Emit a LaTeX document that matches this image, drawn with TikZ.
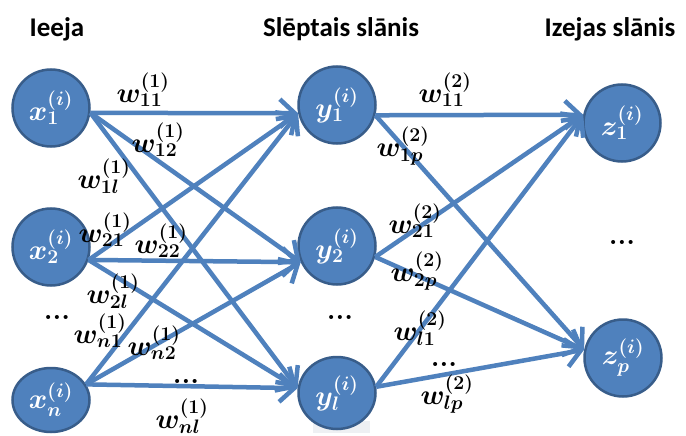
\documentclass[tikz,border=0pt]{standalone}
\usepackage{graphicx}
\usepackage{fontspec}
\newfontfamily\headfont{Carlito}
\usetikzlibrary{arrows.meta,shapes.geometric}
\definecolor{nodeblue}{HTML}{4F81BD}
\definecolor{nodeedge}{HTML}{385D8A}
\definecolor{edgeblue}{HTML}{4F81BD}
\definecolor{shadegray}{HTML}{EEF0F3}
\newcommand{\enlmath}[1]{\scalebox{1.13}{$#1$}}
\begin{document}
\begin{tikzpicture}[x=1pt,y=-1pt,
  neuron/.style={circle, fill=nodeblue, draw=nodeedge, line width=2.5pt, minimum size=77pt, inner sep=0pt, text=white, font=\fontsize{24}{24}\selectfont\boldmath},
  conn/.style={draw=edgeblue, line width=4.5pt, -{Straight Barb[length=15pt,width=28pt]}},
  wlab/.style={font=\fontsize{24}{24}\selectfont\boldmath, inner sep=0pt},
  head/.style={font=\headfont\bfseries\fontsize{27}{27}\selectfont, inner sep=0pt},
  dotsym/.style={font=\bfseries\fontsize{28}{28}\selectfont, inner sep=0pt}]
\fill[white] (0,0) rectangle (686,436);
\useasboundingbox (0,0) rectangle (686,436);

% headers
\node[head] (h1) at (57,29) {Ieeja};
\node[head] (h2) at (341,29) {Slēptais slānis};
\node[head] (h3) at (610,29) {Izejas slānis};

% faint shade under y_l
\fill[shadegray] (313,421) rectangle (370,433);

% neurons
\node[neuron] (x1) at (51,108) {\enlmath{x^{(i)}_{1}}};
\node[neuron] (x2) at (51,247) {\enlmath{x^{(i)}_{2}}};
\node[neuron, ellipse, minimum width=77pt, minimum height=64pt] (xn) at (51,400) {\enlmath{x^{(i)}_{n}}};
\node[neuron] (y1) at (337,105) {\enlmath{y^{(i)}_{1}}};
\node[neuron] (y2) at (337,246) {\enlmath{y^{(i)}_{2}}};
\node[neuron, ellipse, minimum width=77pt, minimum height=72pt] (yl) at (337,393) {\enlmath{y^{(i)}_{l}}};
\node[neuron] (z1) at (622,123) {\enlmath{z^{(i)}_{1}}};
\node[neuron] (zp) at (623,358) {\enlmath{z^{(i)}_{p}}};

% layer 1 connections
\draw[conn] (x1.-7) -- (y1.192);
\draw[conn] (x1.-7) -- (y2.204);
\draw[conn] (x1.-7) -- (yl.173);
\draw[conn] (x2.-19) -- (y1.192);
\draw[conn] (x2.-19) -- (y2.204);
\draw[conn] (x2.-19) -- (yl.173);
\draw[conn] (xn.24) -- (y1.192);
\draw[conn] (xn.24) -- (y2.204);
\draw[conn] (xn.24) -- (yl.173);

% layer 2 connections
\draw[conn] (y1.-15) -- (z1.168);
\draw[conn] (y1.-15) -- (zp.168);
\draw[conn] (y2.-16) -- (z1.168);
\draw[conn] (y2.-16) -- (zp.168);
\draw[conn] (yl.9) -- (z1.168);
\draw[conn] (yl.9) -- (zp.168);

% weight labels layer 1
\node[wlab] (w11) at (143,90) {\enlmath{w^{(1)}_{11}}};
\node[wlab] (w12) at (158,140) {\enlmath{w^{(1)}_{12}}};
\node[wlab] (w1l) at (104,176) {\enlmath{w^{(1)}_{1l}}};
\node[wlab] (w21) at (105,230) {\enlmath{w^{(1)}_{21}}};
\node[wlab] (w22) at (161,241) {\enlmath{w^{(1)}_{22}}};
\node[wlab] (w2l) at (113,291) {\enlmath{w^{(1)}_{2l}}};
\node[wlab] (wn1) at (100,331) {\enlmath{w^{(1)}_{n1}}};
\node[wlab] (wn2) at (154,343) {\enlmath{w^{(1)}_{n2}}};
\node[wlab] (wnl) at (182,416) {\enlmath{w^{(1)}_{nl}}};

% weight labels layer 2
\node[wlab] (v11) at (445,90) {\enlmath{w^{(2)}_{11}}};
\node[wlab] (v1p) at (403,146) {\enlmath{w^{(2)}_{1p}}};
\node[wlab] (v21) at (415,221) {\enlmath{w^{(2)}_{21}}};
\node[wlab] (v2p) at (417,271) {\enlmath{w^{(2)}_{2p}}};
\node[wlab] (vl1) at (420,328) {\enlmath{w^{(2)}_{l1}}};
\node[wlab] (vlp) at (447,394) {\enlmath{w^{(2)}_{lp}}};

% ellipses
\node[dotsym] (d1) at (57,317) {...};
\node[dotsym] (d2) at (186,381) {...};
\node[dotsym] (d3) at (340,317) {...};
\node[dotsym] (d4) at (444,364) {...};
\node[dotsym] (d5) at (622,242) {...};
\end{tikzpicture}
\end{document}
